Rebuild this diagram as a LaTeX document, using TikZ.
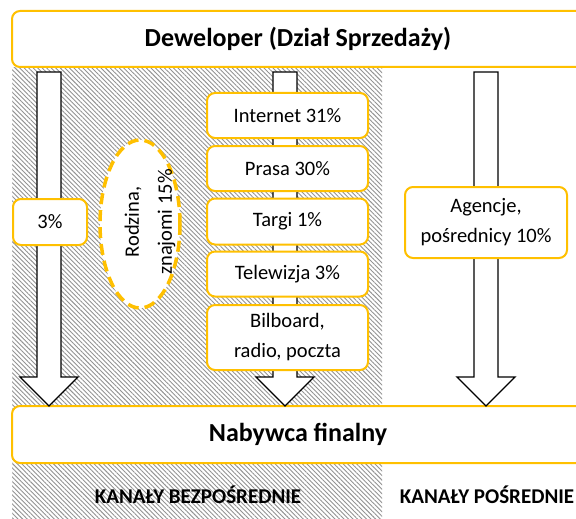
\documentclass[tikz,border=0pt]{standalone}
\usepackage{fontspec}
\setmainfont{Carlito}
\usetikzlibrary{patterns.meta,shapes.geometric}
\definecolor{orng}{HTML}{FFC000}
\begin{document}
\begin{tikzpicture}[x=1pt,y=-1pt,
  box/.style={draw=orng, line width=2pt, rounded corners=8pt, fill=white,
    font=\fontsize{20.5}{30}\selectfont, align=center, inner sep=0pt},
  bigbox/.style={box, font=\fontsize{26}{30}\selectfont\bfseries},
  blockarr/.style={draw=black, line width=1.3pt, fill=white, line join=miter},
  chanlabel/.style={font=\fontsize{21}{25}\selectfont\bfseries, inner sep=0pt}]
\clip (0,0) rectangle (576,519);
\useasboundingbox (0,0) rectangle (576,519);
\fill[white] (0,0) rectangle (576,519);
\fill[pattern={Lines[angle=-45,distance=3.2pt,line width=0.9pt]}, pattern color=gray!85] (12,68) rectangle (382,519);

\node[bigbox, minimum width=572pt, minimum height=56pt] (dev) at (298,39) {Deweloper (Dział Sprzedaży)};
\node[bigbox, minimum width=572pt, minimum height=57pt] (buyer) at (298,434.5) {Nabywca finalny};

\foreach \cx/\nm in {49/a,285/b,486/c}{
  \draw[blockarr] ({\cx-12},72) -- ({\cx+12},72) -- ({\cx+12},377) -- ({\cx+29},377)
    -- (\cx,406) -- ({\cx-29},377) -- ({\cx-12},377) -- cycle;
}

\node[box, minimum width=161pt, minimum height=45pt] (inet) at (287.5,115.5) {Internet 31\%};
\node[box, minimum width=161pt, minimum height=45pt] (prasa) at (287.5,168.5) {Prasa 30\%};
\node[box, minimum width=161pt, minimum height=46pt] (targi) at (287.5,221.5) {Targi 1\%};
\node[box, minimum width=161pt, minimum height=45pt] (tv) at (287.5,274) {Telewizja 3\%};
\node[box, minimum width=161pt, minimum height=65pt] (bil) at (287.5,337.5) {Bilboard,\\radio, poczta};
\node[box, minimum width=74pt, minimum height=46pt] (three) at (50,222) {3\%};
\node[box, minimum width=162pt, minimum height=71pt] (agen) at (486,222.5) {Agencje,\\pośrednicy 10\%};
\node[ellipse, draw=orng, fill=white, line width=3.5pt, dash pattern=on 11pt off 6pt,
  minimum width=80pt, minimum height=168pt, inner sep=0pt] (fam) at (140,224) {};
\node[rotate=90, align=center, inner sep=0pt,
  font=\fontsize{20.5}{33}\selectfont] (famtext) at (150,222) {Rodzina,\\znajomi 15\%};

\node[chanlabel] (direct) at (198,495) {KANAŁY BEZPOŚREDNIE};
\node[chanlabel] (indirect) at (487,495) {KANAŁY POŚREDNIE};
\end{tikzpicture}
\end{document}
